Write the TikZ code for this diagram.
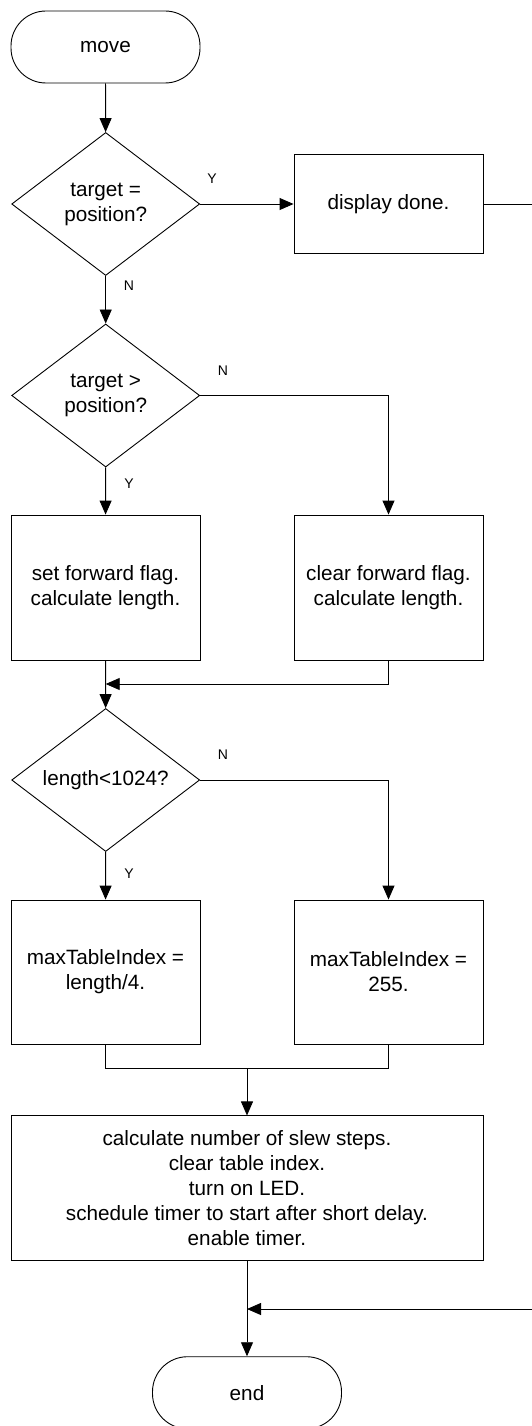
\documentclass[tikz,border=0pt]{standalone}
\usepackage{fontspec}
\setmainfont{Liberation Sans}
\usetikzlibrary{shapes.geometric,arrows.meta}

\begin{document}
\begin{tikzpicture}[x=1pt,y=-1pt,
    txt/.style={font=\fontsize{20.7}{25}\selectfont,align=center},
    term/.style={shape=rectangle,draw,rounded corners=35pt,minimum width=189pt,minimum height=72pt,txt},
    procbox/.style={shape=rectangle,draw,minimum width=189pt,txt},
    decide/.style={shape=diamond,draw,shape aspect=1.315,inner sep=0pt,minimum width=188pt,minimum height=143pt,txt},
    yn/.style={font=\fontsize{14}{16}\selectfont},
    flow/.style={-{Triangle[length=14pt,width=12pt]}}]
    \useasboundingbox (0,0) rectangle (532,1426);
    \begin{scope}[line width=0.9pt]
    % nodes
    \node[term] (move) at (105.5,47) {move};
    \node[decide] (dec1) at (105.7,204) {target =\\position?};
    \node[procbox,minimum height=99pt] (done) at (388.5,204) {display done.};
    \node[decide] (dec2) at (105.7,395.5) {target \textgreater\\position?};
    \node[procbox,minimum height=145pt] (setfwd) at (105.5,587.5) {set forward flag.\\calculate length.};
    \node[procbox,minimum height=145pt] (clrfwd) at (388.5,587.5) {clear forward flag.\\calculate length.};
    \node[decide] (dec3) at (105.7,780) {length\textless1024?};
    \node[procbox,minimum height=144pt] (maxlen) at (105.5,972) {maxTableIndex =\\length/4.};
    \node[procbox,minimum height=144pt] (max255) at (388.5,972) {maxTableIndex =\\255.};
    \node[procbox,minimum width=472pt,minimum height=145pt] (calc) at (247,1188.4) {calculate number of slew steps.\\clear table index.\\turn on LED.\\schedule timer to start after short delay.\\enable timer.};
    \node[term] (end) at (247,1392.7) {end};
    % join points
    \coordinate (j1) at (105.7,684);
    \coordinate (j2) at (247,1068);
    \coordinate (j3) at (247,1309);
    % connectors
    \draw[flow] (move) -- (dec1);
    \draw[flow] (dec1.east) -- (done.west);
    \draw[flow] (dec1) -- (dec2);
    \draw[flow] (dec2.east) -| (clrfwd.north);
    \draw[flow] (dec2) -- (setfwd);
    \draw[flow] (clrfwd.south) |- (j1);
    \draw[flow] (setfwd) -- (dec3);
    \draw[flow] (dec3.east) -| (max255.north);
    \draw[flow] (dec3) -- (maxlen);
    \draw (maxlen.south) |- (j2) -| (max255.south);
    \draw[flow] (j2) -- (calc);
    \draw[flow] (calc) -- (end);
    \draw[flow] (done.east) -- ++(70,0) |- (j3);
    % labels
    \node[yn] (y1) at (212,179) {Y};
    \node[yn] (n1) at (129,286) {N};
    \node[yn] (n2) at (223,371) {N};
    \node[yn] (y2) at (129,484) {Y};
    \node[yn] (n3) at (223,755) {N};
    \node[yn] (y3) at (129,874) {Y};
    \end{scope}
\end{tikzpicture}
\end{document}
